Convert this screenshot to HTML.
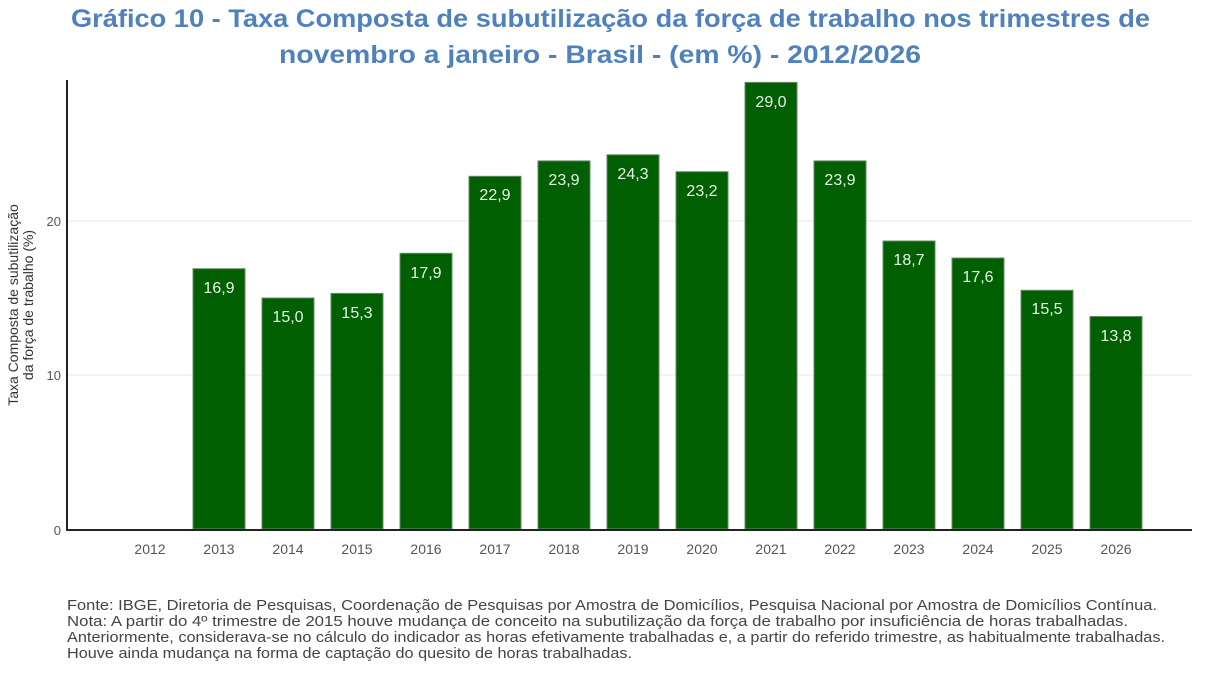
<!DOCTYPE html>
<html><head><meta charset="utf-8"><style>
body{margin:0;background:#fff;width:1221px;height:676px;overflow:hidden;}
svg{display:block}
</style></head><body>
<svg width="1221" height="676" xmlns="http://www.w3.org/2000/svg" font-family="Liberation Sans, sans-serif">
<text x="71" y="27" font-size="25" font-weight="bold" fill="#4f81bd" textLength="1079" lengthAdjust="spacingAndGlyphs">Gráfico 10 - Taxa Composta de subutilização da força de trabalho nos trimestres de</text>
<text x="279" y="63" font-size="25" font-weight="bold" fill="#4f81bd" textLength="642" lengthAdjust="spacingAndGlyphs">novembro a janeiro - Brasil - (em %) - 2012/2026</text>
<line x1="67" y1="221" x2="1192" y2="221" stroke="#e6e6e6" stroke-width="1"/>
<line x1="67" y1="375" x2="1192" y2="375" stroke="#e6e6e6" stroke-width="1"/>
<g fill="#005f00" stroke="#6a8a6a" stroke-width="1">
<rect x="193" y="268.7" width="52" height="260.3"/>
<rect x="262" y="298" width="52" height="231"/>
<rect x="331" y="293.4" width="52" height="235.6"/>
<rect x="400" y="253.3" width="52" height="275.7"/>
<rect x="469" y="176.3" width="52" height="352.7"/>
<rect x="538" y="160.9" width="52" height="368.1"/>
<rect x="607" y="154.8" width="52" height="374.2"/>
<rect x="676" y="171.7" width="52" height="357.3"/>
<rect x="745" y="82.4" width="52" height="446.6"/>
<rect x="814" y="160.9" width="52" height="368.1"/>
<rect x="883" y="241" width="52" height="288"/>
<rect x="952" y="258" width="52" height="271"/>
<rect x="1021" y="290.3" width="52" height="238.7"/>
<rect x="1090" y="316.5" width="52" height="212.5"/>
</g>
<g fill="#e8f2e8" font-size="16" text-anchor="middle">
<text x="219" y="293">16,9</text><text x="288" y="322">15,0</text><text x="357" y="318">15,3</text><text x="426" y="278">17,9</text><text x="495" y="200">22,9</text><text x="564" y="185">23,9</text><text x="633" y="179">24,3</text><text x="702" y="196">23,2</text><text x="771" y="107">29,0</text><text x="840" y="185">23,9</text><text x="909" y="265">18,7</text><text x="978" y="282">17,6</text><text x="1047" y="314">15,5</text><text x="1116" y="341">13,8</text>
</g>
<line x1="67" y1="80" x2="67" y2="530" stroke="#222" stroke-width="2"/>
<line x1="66" y1="530" x2="1192" y2="530" stroke="#222" stroke-width="2"/>
<g fill="#555" font-size="13" text-anchor="end">
<text x="61" y="226">20</text><text x="61" y="380">10</text><text x="61" y="535">0</text>
</g>
<g fill="#555" font-size="14" text-anchor="middle">
<text x="150" y="554">2012</text><text x="219" y="554">2013</text><text x="288" y="554">2014</text><text x="357" y="554">2015</text><text x="426" y="554">2016</text><text x="495" y="554">2017</text><text x="564" y="554">2018</text><text x="633" y="554">2019</text><text x="702" y="554">2020</text><text x="771" y="554">2021</text><text x="840" y="554">2022</text><text x="909" y="554">2023</text><text x="978" y="554">2024</text><text x="1047" y="554">2025</text><text x="1116" y="554">2026</text>
</g>
<g fill="#333" font-size="14" text-anchor="middle" transform="translate(18,305) rotate(-90)">
<text x="0" y="0">Taxa Composta de subutilização</text>
<text x="0" y="15">da força de trabalho (%)</text>
</g>
<g fill="#444" font-size="14.5">
<text x="67" y="610" textLength="1090" lengthAdjust="spacingAndGlyphs">Fonte: IBGE, Diretoria de Pesquisas, Coordenação de Pesquisas por Amostra de Domicílios, Pesquisa Nacional por Amostra de Domicílios Contínua.</text>
<text x="67" y="626" textLength="1061" lengthAdjust="spacingAndGlyphs">Nota: A partir do 4º trimestre de 2015 houve mudança de conceito na subutilização da força de trabalho por insuficiência de horas trabalhadas.</text>
<text x="67" y="642" textLength="1098" lengthAdjust="spacingAndGlyphs">Anteriormente, considerava-se no cálculo do indicador as horas efetivamente trabalhadas e, a partir do referido trimestre, as habitualmente trabalhadas.</text>
<text x="67" y="658" textLength="565" lengthAdjust="spacingAndGlyphs">Houve ainda mudança na forma de captação do quesito de horas trabalhadas.</text>
</g>
</svg>
</body></html>
